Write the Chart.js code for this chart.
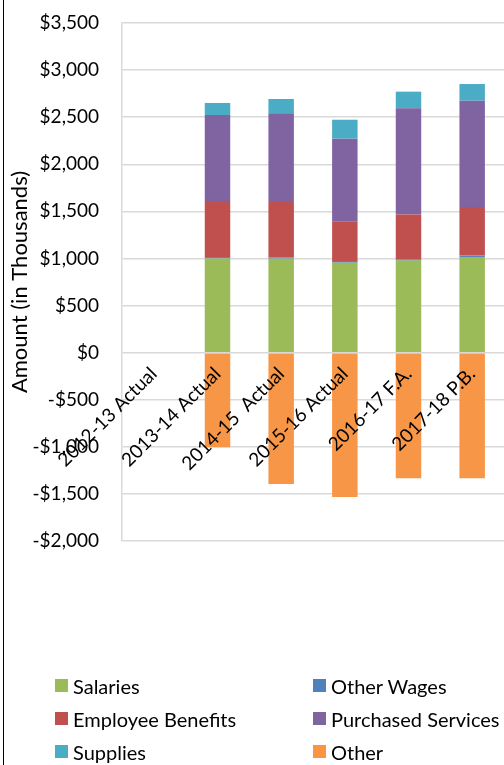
<!DOCTYPE html>
<html>
<head>
<meta charset="utf-8">
<script src="https://cdn.jsdelivr.net/npm/chart.js@4/dist/chart.umd.min.js"></script>
<style>
  html, body { margin: 0; padding: 0; background: #fff; }
  #wrap { position: relative; width: 504px; height: 765px; overflow: hidden; }
  #frame { position: absolute; left: 3px; top: 0; width: 1px; height: 765px; background: #000; }
  #chart { position: absolute; left: 0; top: 0; }
  #legend {
    position: absolute; left: 55px; top: 669px; width: 449px;
    display: grid; grid-template-columns: 258px 191px; grid-auto-rows: 33px;
    font-family: Lato, "Open Sans", sans-serif; font-size: 20px; color: #000;
  }
  .item { display: flex; align-items: center; white-space: nowrap; }
  .box { width: 13px; height: 13px; margin-right: 5px; flex: none; }
</style>
</head>
<body>
<div id="wrap">
  <canvas id="chart" width="504" height="765"></canvas>
  <div id="frame"></div>
  <div id="legend"></div>
</div>
<script>
// Budget by fiscal year, amounts in thousands of dollars
const categories = ['2012-13 Actual', '2013-14 Actual', '2014-15  Actual', '2015-16 Actual', '2016-17 F.A.', '2017-18 P.B.'];
const salaries          = [null, 1000,  998,  955,  977, 1016];
const otherWages        = [null,   15,   14,   18,   13,   17];
const employeeBenefits  = [null,  595,  588,  421,  478,  514];
const purchasedServices = [null,  913,  941,  878, 1126, 1128];
const supplies          = [null,  128,  152,  201,  177,  177];
const other             = [null, -1005, -1394, -1532, -1334, -1335];
const yTicks = [-2000, -1500, -1000, -500, 0, 500, 1000, 1500, 2000, 2500, 3000, 3500];

const FONT = 'Lato, "Open Sans", sans-serif';

const series = [
  { label: 'Salaries',           data: salaries,          color: '#9BBB59' },
  { label: 'Other Wages',        data: otherWages,        color: '#4F81BD' },
  { label: 'Employee Benefits',  data: employeeBenefits,  color: '#C0504D' },
  { label: 'Purchased Services', data: purchasedServices, color: '#8064A2' },
  { label: 'Supplies',           data: supplies,          color: '#4BACC6' },
  { label: 'Other',              data: other,             color: '#F79646' }
];

function money(v) {
  const s = '$' + Math.abs(v).toLocaleString('en-US');
  return v < 0 ? '-' + s : s;
}

const chart = new Chart(document.getElementById('chart'), {
  type: 'bar',
  data: {
    labels: categories,
    datasets: series.map(s => ({
      label: s.label,
      data: s.data,
      backgroundColor: s.color,
      borderWidth: 0,
      stack: 'budget',
      barPercentage: 0.4,
      categoryPercentage: 1.0
    }))
  },
  options: {
    responsive: false,
    animation: false,
    layout: { padding: { top: 23, left: 7, right: 0, bottom: 224 } },
    plugins: {
      legend: { display: false },
      tooltip: { enabled: false }
    },
    scales: {
      x: {
        stacked: true,
        position: { y: 0 },
        grid: { display: false },
        border: { display: false },
        ticks: {
          z: 1,
          autoSkip: false,
          minRotation: 45,
          maxRotation: 45,
          padding: 2,
          color: '#000',
          font: { family: FONT, size: 19 }
        }
      },
      y: {
        stacked: true,
        min: -2000,
        max: 3500,
        afterBuildTicks: s => { s.ticks = yTicks.map(v => ({ value: v })); },
        grid: {
          color: '#d9d9d9', lineWidth: 1.5,
          drawTicks: true, tickLength: 20, tickColor: 'rgba(0,0,0,0)'
        },
        border: { display: true, color: '#d9d9d9', width: 1.5 },
        ticks: {
          padding: 3,
          color: '#000',
          font: { family: FONT, size: 19 },
          callback: v => money(v)
        },
        title: {
          display: true,
          text: 'Amount (in Thousands)',
          color: '#000',
          font: { family: FONT, size: 22 },
          padding: { top: 0, bottom: 0 }
        },
        afterFit: s => { s.width = 115; }
      }
    }
  }
});

// Two-column legend built from the chart's datasets
const legend = document.getElementById('legend');
chart.data.datasets.forEach(ds => {
  const item = document.createElement('div');
  item.className = 'item';
  const box = document.createElement('span');
  box.className = 'box';
  box.style.background = ds.backgroundColor;
  const txt = document.createElement('span');
  txt.textContent = ds.label;
  item.appendChild(box);
  item.appendChild(txt);
  legend.appendChild(item);
});
</script>
</body>
</html>
